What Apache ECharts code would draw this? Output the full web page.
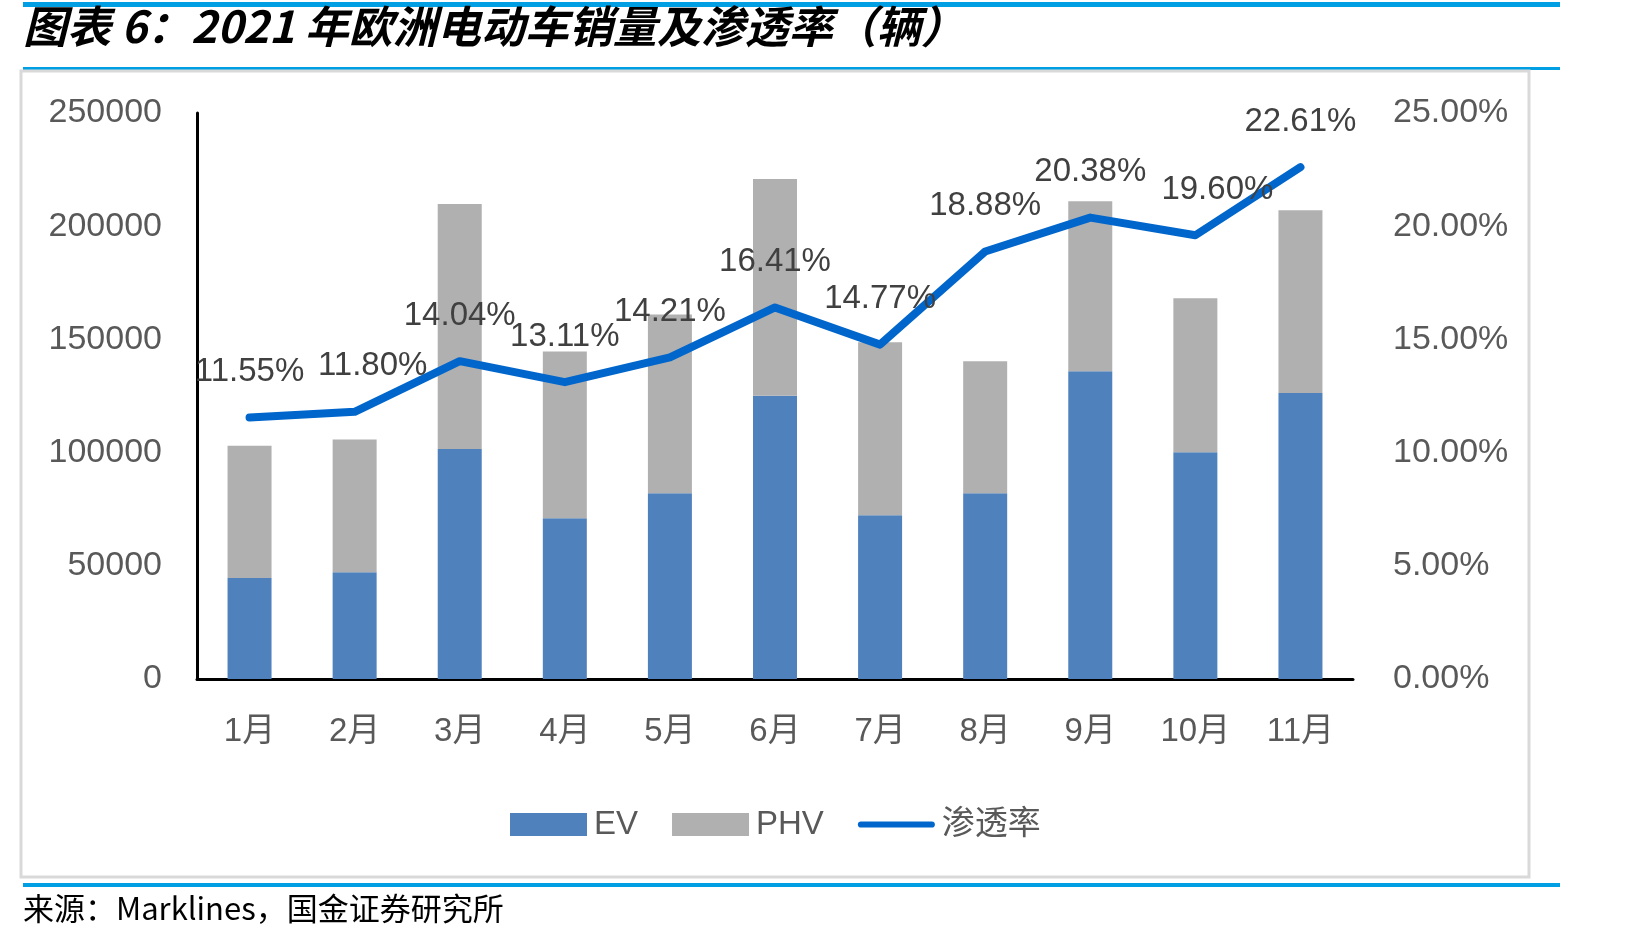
<!DOCTYPE html>
<html>
<head>
<meta charset="utf-8">
<title>2021年欧洲电动车销量及渗透率</title>
<script src="https://cdn.jsdelivr.net/npm/echarts@6/dist/echarts.min.js"></script>
<style>
  html, body { margin: 0; padding: 0; background: #fff; }
  #main { width: 1642px; height: 944px; }
</style>
</head>
<body>
<div id="main"></div>
<script>
// 数据
var months = ['1月', '2月', '3月', '4月', '5月', '6月', '7月', '8月', '9月', '10月', '11月'];
var evData = [44600, 47200, 101600, 71000, 82100, 125100, 72300, 82100, 135900, 100200, 126300];
var phvData = [58400, 58600, 108200, 73700, 78900, 95700, 76400, 58200, 75100, 68000, 80700];
var rateData = [0.1155, 0.1180, 0.1404, 0.1311, 0.1421, 0.1641, 0.1477, 0.1888, 0.2038, 0.1960, 0.2261];
var leftTicks = [0, 50000, 100000, 150000, 200000, 250000];
var rightTicks = [0, 0.05, 0.10, 0.15, 0.20, 0.25];

var FONT = "'Liberation Sans', 'Noto Sans CJK SC', sans-serif";
var CJK = "'Noto Sans CJK SC', sans-serif";
var blue = '#009FE3';

// 个别标签右移，避免与折线重叠（与原图一致）
var labelShift = { 1: 18, 9: 22 };
var rateSeriesData = rateData.map(function (v, i) {
  if (labelShift[i]) return { value: v, label: { offset: [labelShift[i], 0] } };
  return v;
});

var chart = echarts.init(document.getElementById('main'), null, { renderer: 'canvas' });

var option = {
  backgroundColor: '#fff',
  animation: false,
  textStyle: { fontFamily: FONT },
  graphic: [
    // 标题上下的蓝线
    { type: 'rect', shape: { x: 23, y: 2, width: 1537, height: 5 }, style: { fill: blue } },
    { type: 'rect', shape: { x: 23, y: 67, width: 1537, height: 3 }, style: { fill: blue } },
    { type: 'rect', shape: { x: 23, y: 883, width: 1537, height: 4 }, style: { fill: blue } },
    // 图表边框
    { type: 'rect', shape: { x: 21, y: 71, width: 1508, height: 806 }, style: { fill: 'none', stroke: '#D9D9D9', lineWidth: 3 } },
    {
      type: 'text', left: 23, top: 4,
      style: {
        text: '图表 6：2021 年欧洲电动车销量及渗透率（辆）',
        font: 'italic bold 44px ' + CJK,
        fill: '#000'
      }
    },
    {
      type: 'text', left: 23, top: 893,
      style: {
        text: '来源：Marklines，国金证券研究所',
        font: '31px ' + CJK,
        fill: '#000'
      }
    }
  ],
  legend: {
    left: 505,
    top: 803,
    itemWidth: 77,
    itemHeight: 23,
    itemGap: 34,
    textStyle: { fontSize: 33, color: '#595959', fontFamily: FONT, lineHeight: 33, padding: [0, 0, 0, 2] },
    data: [
      { name: 'EV', icon: 'rect' },
      { name: 'PHV', icon: 'rect' },
      { name: '渗透率', icon: 'path://M4,0 L96,0 A4,4 0 0 1 96,8 L4,8 A4,4 0 0 1 4,0 Z' }
    ]
  },
  grid: { left: 197, right: 289, top: 113, bottom: 265 },
  xAxis: {
    type: 'category',
    data: months,
    axisLine: { lineStyle: { color: '#000', width: 3 } },
    axisTick: { show: false },
    axisLabel: { fontSize: 33, color: '#595959', margin: 36, fontFamily: FONT }
  },
  yAxis: [
    {
      type: 'value',
      min: leftTicks[0],
      max: leftTicks[leftTicks.length - 1],
      interval: 50000,
      splitLine: { show: false },
      axisTick: { show: false },
      axisLine: { show: true, lineStyle: { color: '#000', width: 3 } },
      axisLabel: {
        fontSize: 34, color: '#595959', margin: 35, fontFamily: FONT,
        formatter: function (v) { return String(v); }
      }
    },
    {
      type: 'value',
      min: rightTicks[0],
      max: rightTicks[rightTicks.length - 1],
      interval: 0.05,
      splitLine: { show: false },
      axisTick: { show: false },
      axisLine: { show: false },
      axisLabel: {
        fontSize: 34, color: '#595959', margin: 40, fontFamily: FONT,
        formatter: function (v) { return (v * 100).toFixed(2) + '%'; }
      }
    }
  ],
  series: [
    {
      name: 'EV',
      type: 'bar',
      stack: 'total',
      barWidth: 44,
      itemStyle: { color: '#4F81BD' },
      data: evData
    },
    {
      name: 'PHV',
      type: 'bar',
      stack: 'total',
      barWidth: 44,
      itemStyle: { color: '#B0B0B0' },
      data: phvData
    },
    {
      name: '渗透率',
      type: 'line',
      yAxisIndex: 1,
      showSymbol: true,
      symbol: 'circle',
      symbolSize: 0.1,
      lineStyle: { color: '#0066CC', width: 8, cap: 'round', join: 'round' },
      itemStyle: { color: '#0066CC' },
      label: {
        show: true,
        position: 'top',
        distance: 29,
        fontSize: 33,
        color: '#404040',
        fontFamily: FONT,
        formatter: function (p) { return (p.value * 100).toFixed(2) + '%'; }
      },
      data: rateSeriesData
    }
  ]
};

chart.setOption(option);
</script>
</body>
</html>
